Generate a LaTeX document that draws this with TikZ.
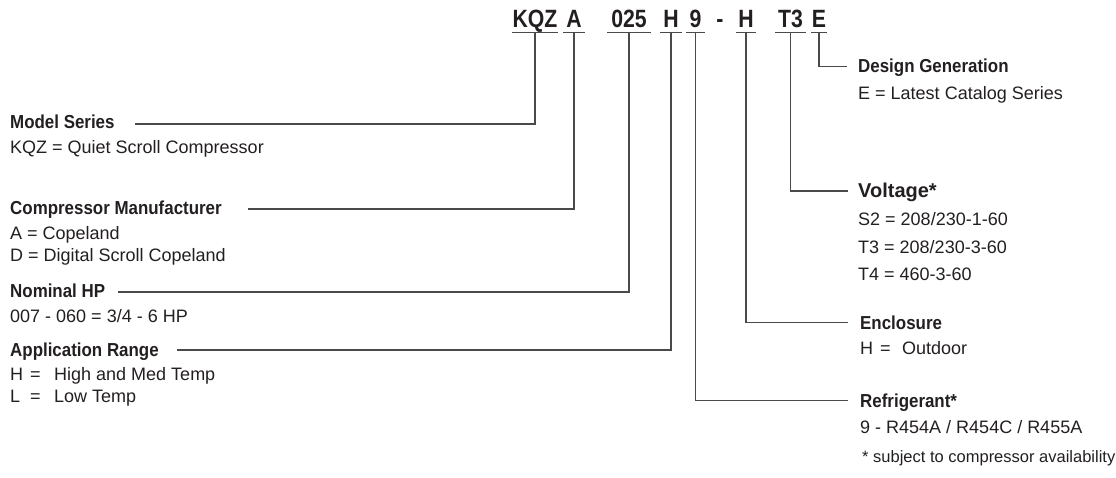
\documentclass[tikz,border=0pt]{standalone}
\usepackage{fontspec}
\setmainfont{Liberation Sans}
\newfontfamily\codefont[FakeStretch=0.85]{Liberation Sans}
\newfontfamily\ttlfont[FakeStretch=0.9]{Liberation Sans}
\definecolor{ink}{HTML}{231F20}
\definecolor{lin}{HTML}{4A4A4A}
\tikzset{
  txt/.style={anchor=base west, inner sep=0pt, text=ink, font=\fontsize{18}{21}\selectfont},
  ttl/.style={anchor=base west, inner sep=0pt, text=ink, font=\ttlfont\fontsize{18.8}{22}\selectfont\bfseries, text height=13pt, text depth=0pt},
  vttl/.style={anchor=base west, inner sep=0pt, text=ink, font=\fontsize{20}{23}\selectfont\bfseries, text height=14pt, text depth=0pt},
  codeseg/.style={anchor=base, inner xsep=0pt, inner ysep=4.5pt, text depth=0pt, text=ink, font=\codefont\fontsize{25}{28}\selectfont\bfseries},
  uline/.style={draw=lin, line width=1.3pt},
  conn/.style={draw=lin, line width=1.2pt},
}
\begin{document}
\begin{tikzpicture}[x=1pt,y=-1pt]
\useasboundingbox (0,0) rectangle (1116,478);
% code row
\node[codeseg, minimum width=45pt] (kqz) at (535,28) {KQZ};
\node[codeseg, minimum width=22pt] (a) at (574,28) {A};
\node[codeseg, minimum width=43pt] (hp) at (629,28) {025};
\node[codeseg, minimum width=22pt] (app) at (671,28) {H};
\node[codeseg, minimum width=18pt] (ref) at (695.5,28) {9};
\node[codeseg] (dash) at (720,28) {-};
\node[codeseg, minimum width=20pt] (enc) at (746,28) {H};
\node[codeseg, minimum width=30pt] (volt) at (790.5,28) {T3};
\node[codeseg, minimum width=15pt] (gen) at (819,28) {E};
\foreach \n in {kqz,a,hp,app,ref,enc,volt,gen}
  \draw[uline] (\n.south west) -- (\n.south east);
% left descriptions
\node[ttl] (ms) at (10,129) {Model Series};
\node[txt] (msb) at (10,154) {KQZ = Quiet Scroll Compressor};
\node[ttl] (cm) at (10,215) {Compressor Manufacturer};
\node[txt] (cm1) at (10,240) {A = Copeland};
\node[txt] (cm2) at (10,262) {D = Digital Scroll Copeland};
\node[ttl] (nh) at (10,298) {Nominal HP};
\node[txt] (nhb) at (10,323) {007 - 060 = 3/4 - 6 HP};
\node[ttl] (ar) at (10,356) {Application Range};
\node[txt] (ar1) at (10,380) {\makebox[20pt][l]{H}\makebox[24pt][l]{=}High and Med Temp};
\node[txt] (ar2) at (10,402) {\makebox[20pt][l]{L}\makebox[24pt][l]{=}Low Temp};
\coordinate (msL) at (135,124);
\coordinate (cmL) at (248,209);
\coordinate (nhL) at (118,292);
\coordinate (arL) at (177,350);
% right descriptions
\node[ttl] (dg) at (858,73) {Design Generation};
\node[txt] (dgb) at (858,100) {E = Latest Catalog Series};
\node[vttl] (vt) at (858,198) {Voltage*};
\node[txt] (vt1) at (858,226) {S2 = 208/230-1-60};
\node[txt] (vt2) at (858,254) {T3 = 208/230-3-60};
\node[txt] (vt3) at (858,280) {T4 = 460-3-60};
\node[ttl] (en) at (860,329) {Enclosure};
\node[txt] (enb) at (860,354) {\makebox[20pt][l]{H}\makebox[22pt][l]{=}Outdoor};
\node[ttl] (rf) at (860,407) {Refrigerant*};
\node[txt] (rfb) at (860,433) {9 - R454A / R454C / R455A};
\node[txt, font=\fontsize{16.5}{19}\selectfont] (note) at (862,462) {* subject to compressor availability};
% connectors
\draw[conn] (kqz.south) |- (msL);
\draw[conn] (a.south) |- (cmL);
\draw[conn] (hp.south) |- (nhL);
\draw[conn] (app.south) |- (arL);
\draw[conn] (ref.south) |- ([xshift=-12pt]rf.west);
\draw[conn] (enc.south) |- ([xshift=-12pt]en.west);
\draw[conn] (volt.south) |- ([xshift=-10pt]vt.west);
\draw[conn] (gen.south) |- ([xshift=-11pt]dg.west);
\end{tikzpicture}
\end{document}
